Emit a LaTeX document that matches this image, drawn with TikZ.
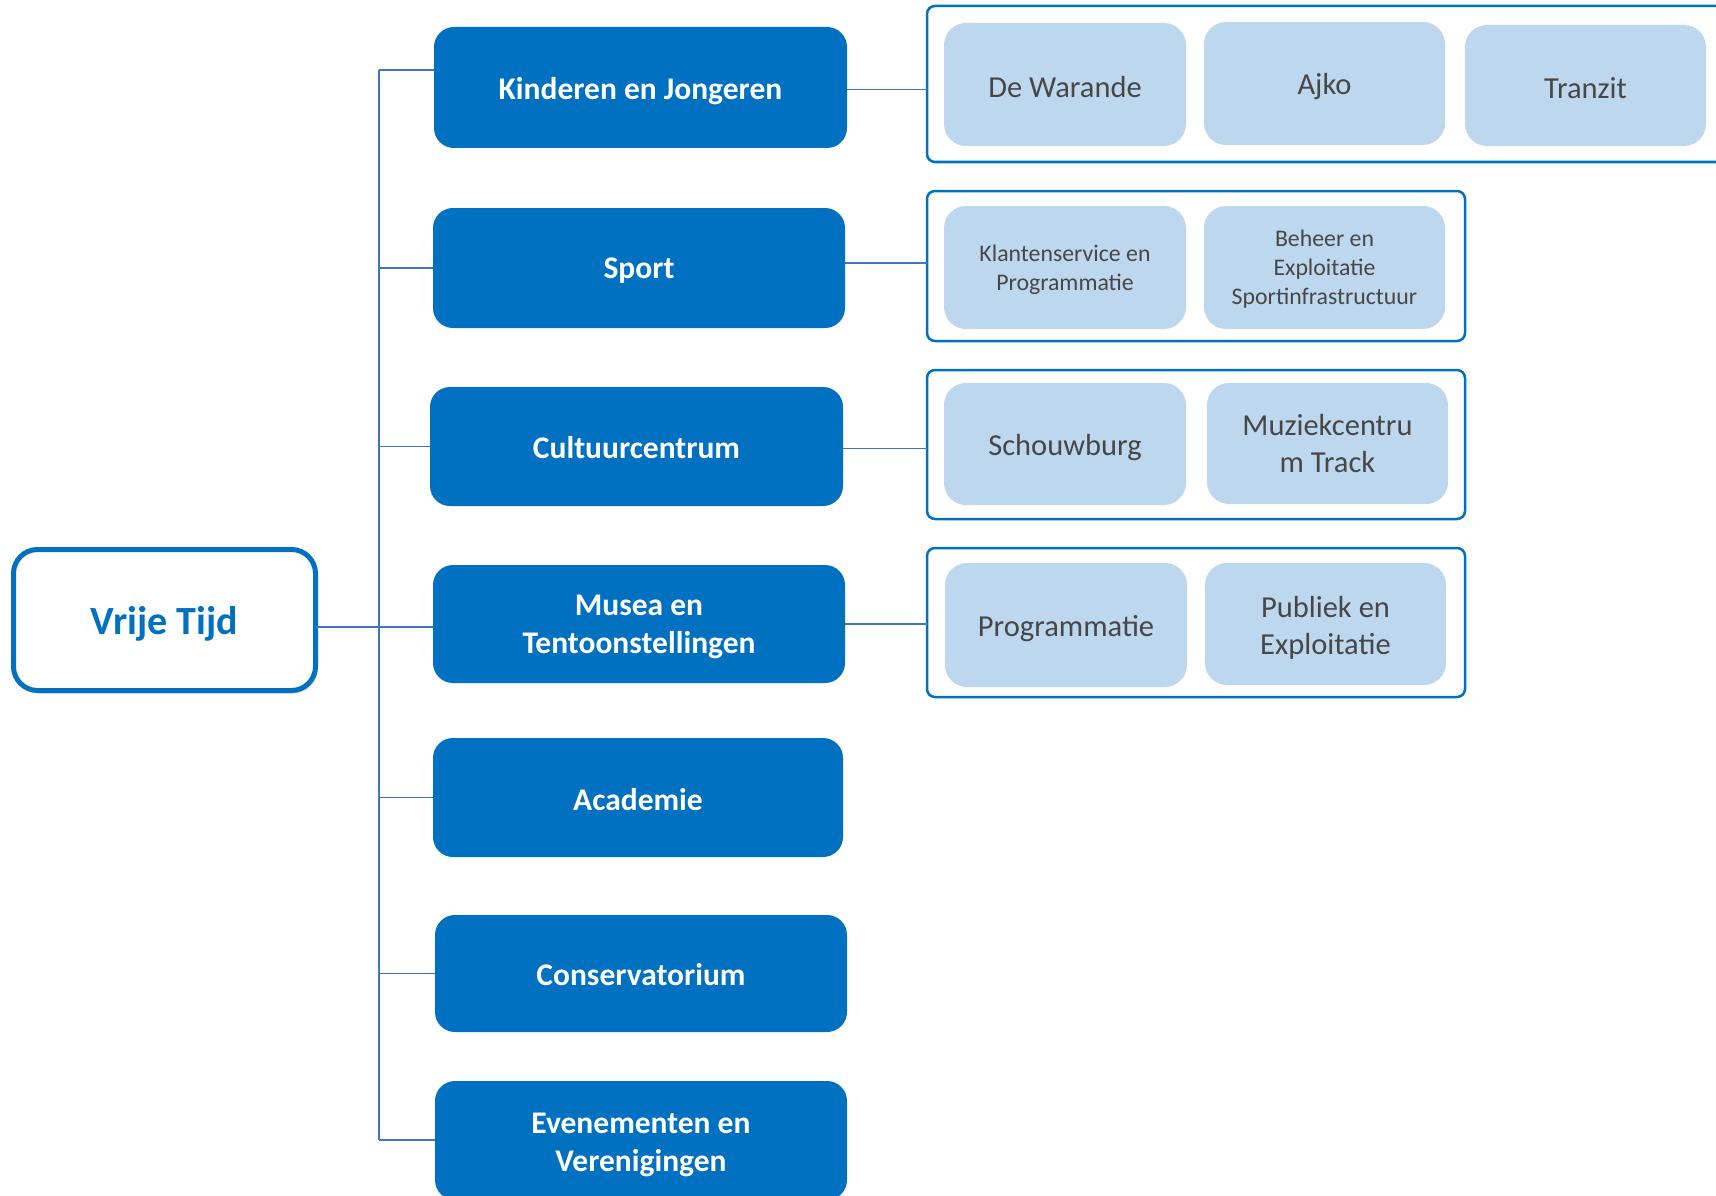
\documentclass[tikz,border=0pt]{standalone}
\usepackage{fontspec}
\setmainfont{Carlito}
\usetikzlibrary{shadows}
\definecolor{dblue}{HTML}{0070C0}
\definecolor{lblue}{HTML}{BDD7EE}
\definecolor{lgray}{HTML}{474747}
\definecolor{conncol}{HTML}{4472C4}
\begin{document}
\begin{tikzpicture}[x=1pt,y=-1pt,
  boxbase/.style={inner sep=0pt, outer sep=0pt},
  bluebox/.style={boxbase, fill=dblue, rounded corners=20pt},
  btext/.style={text=white, font=\fontsize{31.5}{38}\selectfont\bfseries, align=center, inner sep=0pt, yshift=-3pt},
  rootbox/.style={boxbase, draw=dblue, line width=5pt, fill=white, rounded corners=24pt, drop shadow={opacity=0.3, shadow xshift=2pt, shadow yshift=-3pt}},
  rtext/.style={text=dblue, font=\fontsize{40}{46}\selectfont\bfseries, align=center, inner sep=0pt, yshift=-3.5pt},
  groupbox/.style={boxbase, draw=dblue, line width=2.5pt, rounded corners=8pt},
  litebox/.style={boxbase, fill=lblue, rounded corners=22pt},
  ltext/.style={text=lgray, font=\fontsize{30.5}{36.5}\selectfont, align=center, inner sep=0pt, yshift=-3pt},
  lsmall/.style={text=lgray, font=\fontsize{23.8}{29}\selectfont, align=center, inner sep=0pt, yshift=-2pt},
  conn/.style={draw=conncol, line width=1.5pt}
]
\path[use as bounding box] (0,0) rectangle (1716,1196);
\clip (0,0) rectangle (1716,1196);

% root
\node[rootbox, minimum width=302pt, minimum height=141pt, label={[rtext]center:Vrije Tijd}] (root) at (164.5,620) {};

% blue boxes
\node[bluebox, minimum width=413pt, minimum height=121pt, label={[btext, yshift=-1pt]center:Kinderen en Jongeren}] (kin) at (640.5,87.5) {};
\node[bluebox, minimum width=412pt, minimum height=120pt, label={[btext]center:Sport}] (sport) at (639,268) {};
\node[bluebox, minimum width=413pt, minimum height=119pt, label={[btext, yshift=2pt]center:Cultuurcentrum}] (cult) at (636.5,446.5) {};
\node[bluebox, minimum width=412pt, minimum height=118pt, label={[btext]center:{Musea en\\Tentoonstellingen}}] (musea) at (639,624) {};
\node[bluebox, minimum width=410pt, minimum height=119pt, label={[btext, yshift=1pt]center:Academie}] (acad) at (638,797.5) {};
\node[bluebox, minimum width=412pt, minimum height=117pt, label={[btext, yshift=2pt]center:Conservatorium}] (cons) at (641,973.5) {};
\node[bluebox, minimum width=412pt, minimum height=119pt, label={[btext, yshift=-1pt]center:{Evenementen en\\Verenigingen}}] (even) at (641,1140.5) {};

% group boxes
\node[groupbox, minimum width=813pt, minimum height=156pt] (g1) at (1333.5,84) {};
\node[groupbox, minimum width=538pt, minimum height=150pt] (g2) at (1196,266) {};
\node[groupbox, minimum width=538pt, minimum height=149pt] (g3) at (1196,444.5) {};
\node[groupbox, minimum width=538pt, minimum height=149pt] (g4) at (1196,622.5) {};

% light boxes
\node[litebox, minimum width=242pt, minimum height=123pt, label={[ltext]center:De Warande}] (war) at (1065,84.5) {};
\node[litebox, minimum width=241pt, minimum height=123pt, label={[ltext]center:Ajko}] (ajko) at (1324.5,83.5) {};
\node[litebox, minimum width=241pt, minimum height=121pt, label={[ltext]center:Tranzit}] (tranz) at (1585.5,85.5) {};
\node[litebox, minimum width=242pt, minimum height=123pt, label={[lsmall]center:{Klantenservice en\\Programmatie}}] (klant) at (1065,267.5) {};
\node[litebox, minimum width=241pt, minimum height=123pt, label={[lsmall]center:{Beheer en\\Exploitatie\\Sportinfrastructuur}}] (beheer) at (1324.5,267.5) {};
\node[litebox, minimum width=242pt, minimum height=122pt, label={[ltext, yshift=-1pt]center:Schouwburg}] (schouw) at (1065,444) {};
\node[litebox, minimum width=241pt, minimum height=121pt, label={[ltext, yshift=3pt]center:{Muziekcentru\\m Track}}] (muziek) at (1327.5,443.5) {};
\node[litebox, minimum width=242pt, minimum height=124pt, label={[ltext, yshift=-1pt]center:Programmatie}] (prog) at (1066,625) {};
\node[litebox, minimum width=241pt, minimum height=122pt, label={[ltext, yshift=-1pt]center:{Publiek en\\Exploitatie}}] (publ) at (1325.5,624) {};

% trunk
\coordinate (ttop) at (379,70);
\coordinate (tbot) at (379,1140);
\draw[conn] (ttop) -- (tbot);
\draw[conn] (ttop) -- (ttop -| kin.west);
\draw[conn] (sport.west -| ttop) -- (sport.west);
\draw[conn] (cult.west -| ttop) -- (cult.west);
\draw[conn] (root.east |- 0,627) -- (musea.west |- 0,627);
\draw[conn] (acad.west -| ttop) -- (acad.west);
\draw[conn] (cons.west -| ttop) -- (cons.west);
\draw[conn] (tbot) -- (tbot -| even.west);

% right connectors
\draw[conn] ([yshift=-2pt]kin.east) -- ([yshift=-2pt]kin.east -| g1.west);
\draw[conn] ([yshift=5pt]sport.east) -- ([yshift=5pt]sport.east -| g2.west);
\draw[conn] ([yshift=-2pt]cult.east) -- ([yshift=-2pt]cult.east -| g3.west);
\draw[conn] (musea.east) -- (musea.east -| g4.west);
\end{tikzpicture}
\end{document}
